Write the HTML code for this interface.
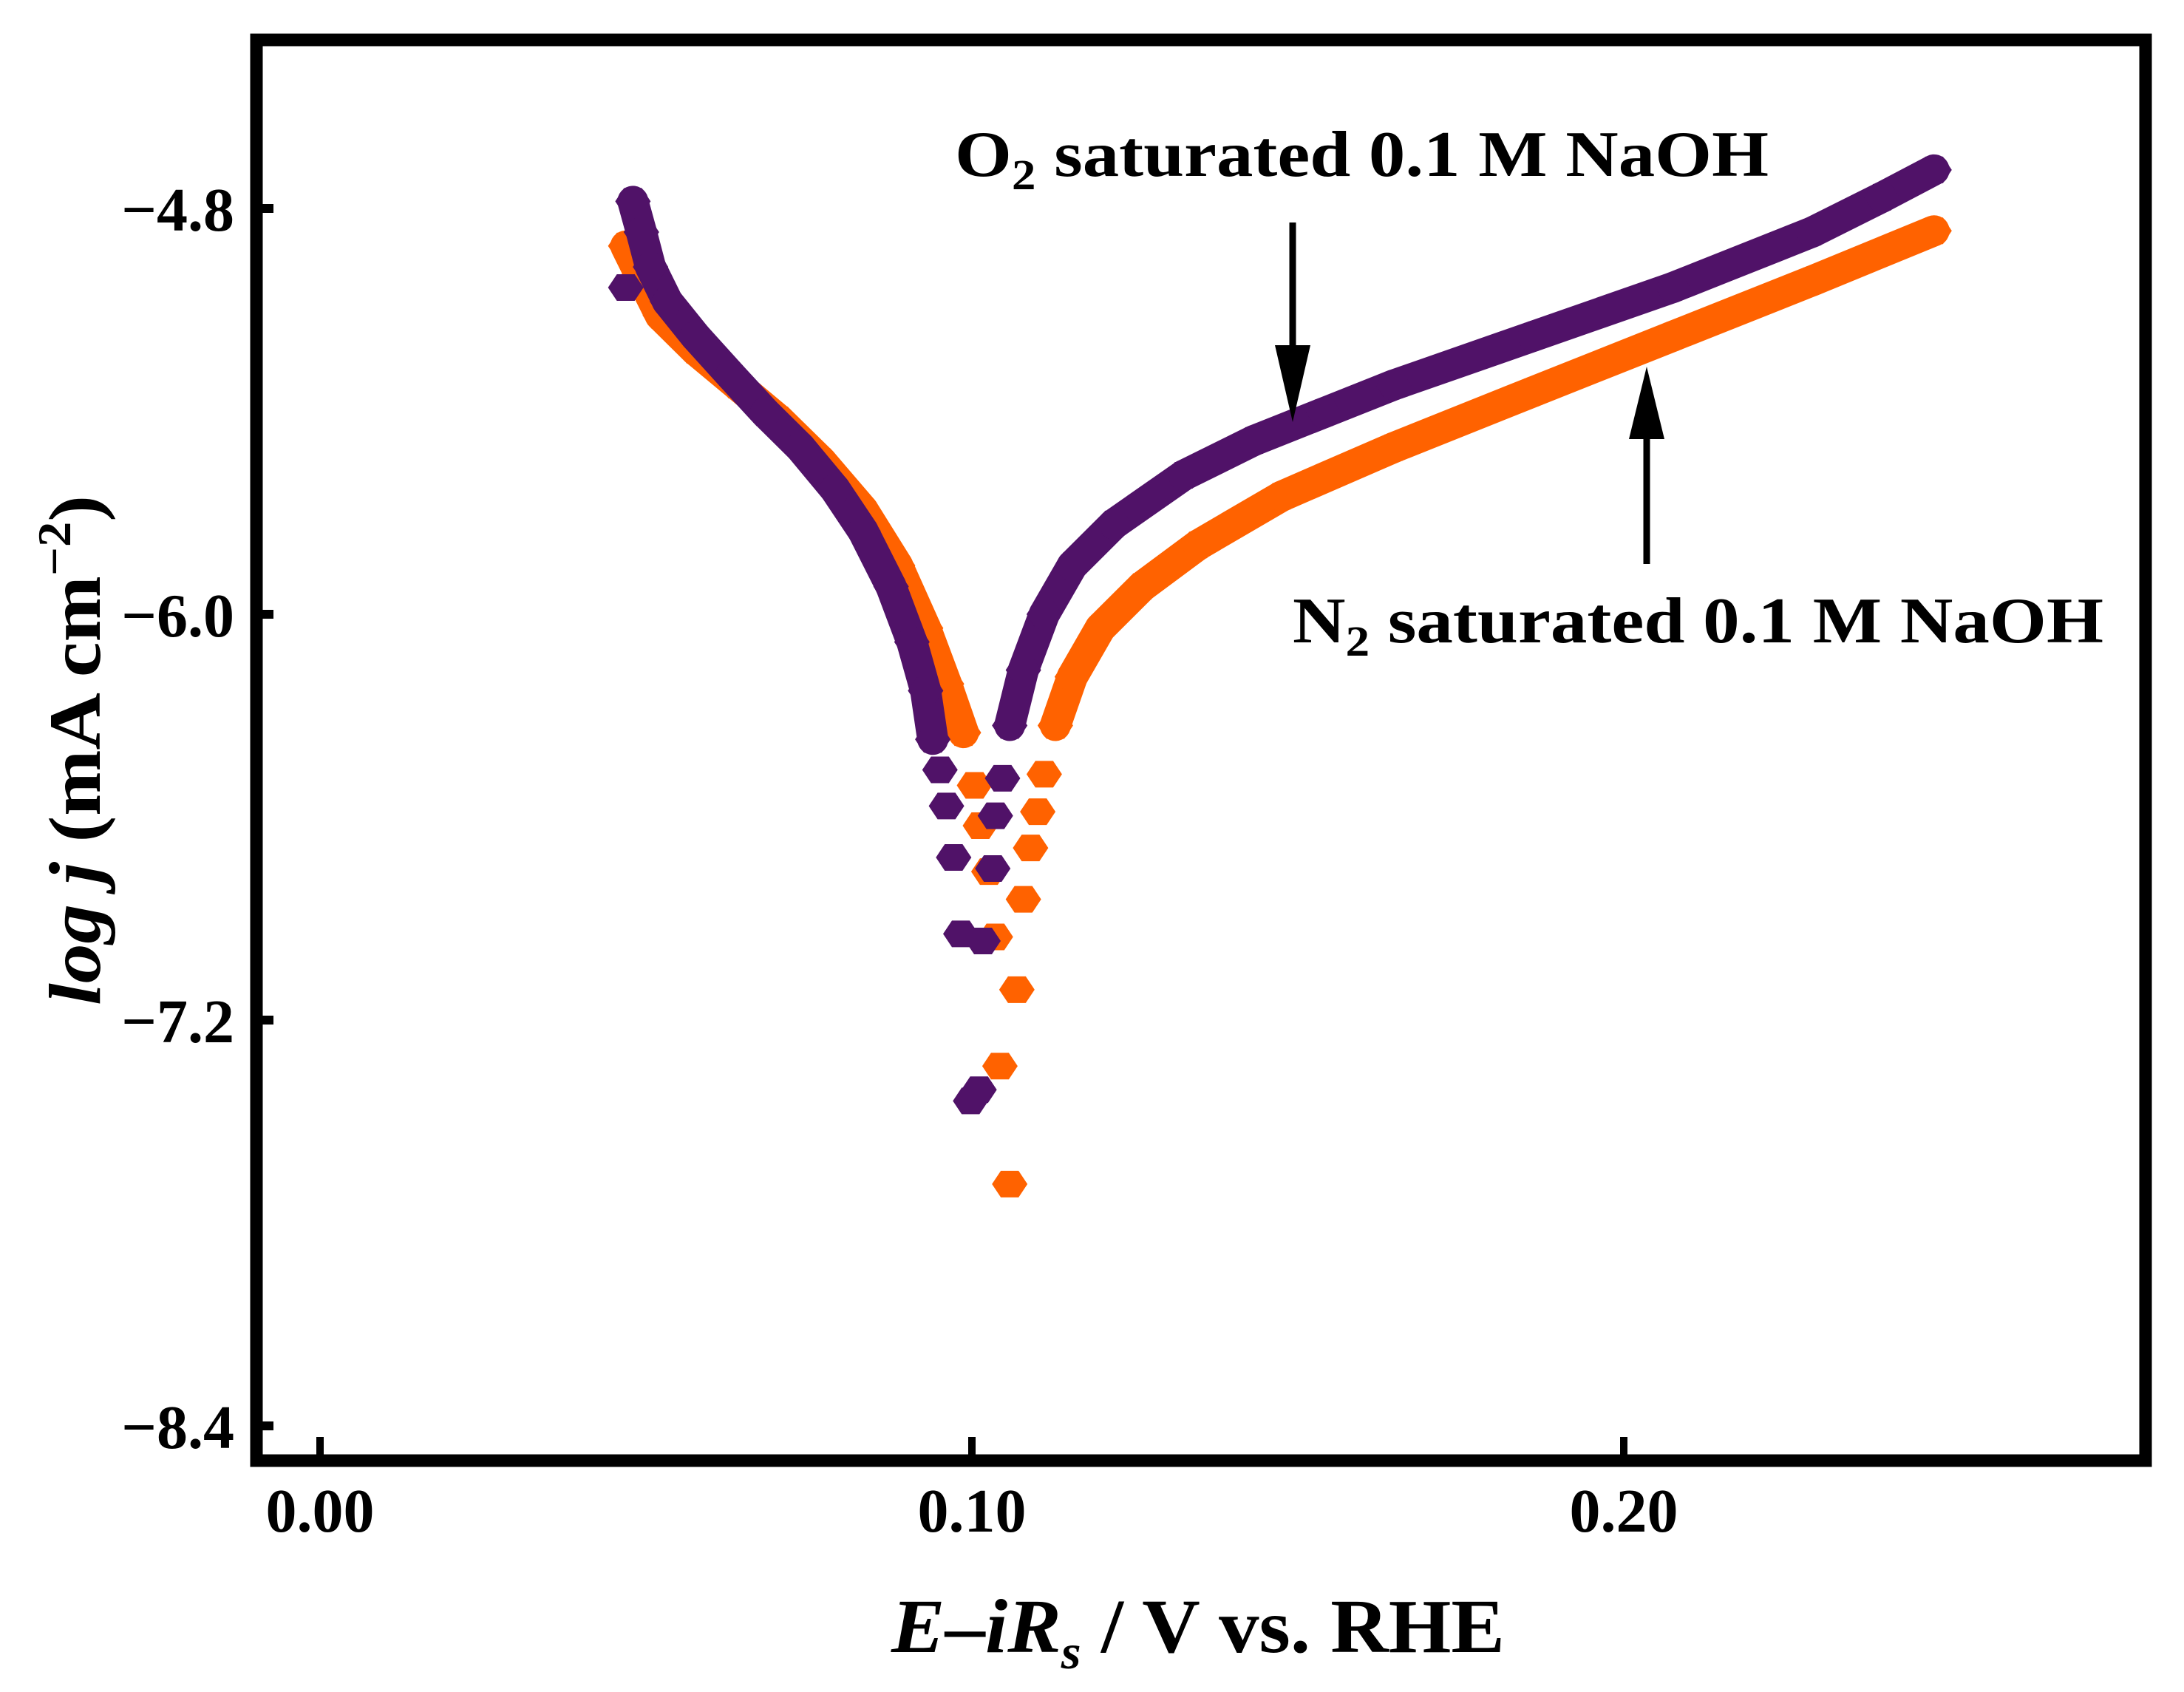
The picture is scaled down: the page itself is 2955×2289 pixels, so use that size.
<!DOCTYPE html>
<html><head><meta charset="utf-8"><style>
html,body{margin:0;padding:0;background:#fff;}
svg{display:block;}
text{font-family:"Liberation Serif",serif;font-weight:bold;fill:#000;}
</style></head><body>
<svg id="chart" width="2955" height="2289" viewBox="0 0 2955 2289" xmlns="http://www.w3.org/2000/svg">
<rect x="0" y="0" width="2955" height="2289" fill="#fff"/>
<g id="marks"></g>
<rect x="347" y="54" width="2556" height="1922" fill="none" stroke="#000" stroke-width="17"/>
<g id="axes"></g>
<text x="1292" y="238" font-size="88" textLength="1101" lengthAdjust="spacingAndGlyphs">O<tspan font-size="58" dy="18">2</tspan><tspan dy="-18"> saturated 0.1 M NaOH</tspan></text>
<text x="1749" y="869" font-size="88" textLength="1097" lengthAdjust="spacingAndGlyphs">N<tspan font-size="58" dy="18">2</tspan><tspan dy="-18"> saturated 0.1 M NaOH</tspan></text>
<g>
<line x1="1749" y1="301" x2="1749" y2="480" stroke="#000" stroke-width="9"/>
<polygon points="1725,467 1773,467 1749,571" fill="#000"/>
</g>
<g>
<line x1="2228" y1="763" x2="2228" y2="580" stroke="#000" stroke-width="9"/>
<polygon points="2204,594 2252,594 2228,496" fill="#000"/>
</g>
<text x="1206" y="2235" font-size="104" textLength="830" lengthAdjust="spacingAndGlyphs"><tspan font-style="italic">E</tspan>–<tspan font-style="italic">iR</tspan><tspan font-style="italic" font-size="66" dy="22">s</tspan><tspan dy="-22"> / V vs. RHE</tspan></text>
<text transform="translate(135,1360) rotate(-90)" x="0" y="0" font-size="100" textLength="690" lengthAdjust="spacingAndGlyphs"><tspan font-style="italic">log j</tspan> (mA cm<tspan font-size="64" dy="-40">−2</tspan><tspan dy="40">)</tspan></text>
</svg>
<script>
const xTicks = [0.00, 0.10, 0.20];
const xTickLabels = ["0.00", "0.10", "0.20"];
const yTicks = [-4.8, -6.0, -7.2, -8.4];
const yTickLabels = ["−4.8", "−6.0", "−7.2", "−8.4"];

const o2X = [0.0469,0.0480,0.0493,0.0507,0.0533,0.0576,0.0630,0.0683,0.0737,0.0790,0.0833,0.0876,0.0908,0.0929,0.0940,0.0951,0.0961,0.0972,0.0983,0.0998,0.1011,0.1017,0.1032,0.1036,0.1047,0.1058,0.1079,0.1111,0.1154,0.1218,0.1325,0.1433,0.1540,0.1647,0.1861,0.2075,0.2289,0.2396,0.2476];
const o2Y = [-5.034,-4.779,-4.870,-4.973,-5.075,-5.178,-5.293,-5.404,-5.507,-5.630,-5.754,-5.918,-6.082,-6.226,-6.370,-6.460,-6.567,-6.719,-6.945,-7.439,-7.406,-6.966,-6.752,-6.596,-6.485,-6.329,-6.165,-6.000,-5.856,-5.733,-5.589,-5.486,-5.404,-5.322,-5.178,-5.034,-4.870,-4.767,-4.686];

const n2X = [0.0469,0.0490,0.0522,0.0576,0.0640,0.0704,0.0769,0.0833,0.0886,0.0929,0.0961,0.0987,0.1004,0.1013,0.1026,0.1036,0.1043,0.1058,0.1069,0.1079,0.1090,0.1101,0.1111,0.1128,0.1154,0.1197,0.1261,0.1347,0.1475,0.1647,0.1861,0.2075,0.2289,0.2476];
const n2Y = [-4.911,-4.993,-5.116,-5.219,-5.322,-5.425,-5.548,-5.692,-5.856,-6.041,-6.206,-6.350,-6.506,-6.625,-6.761,-6.954,-7.336,-7.685,-7.110,-6.843,-6.691,-6.584,-6.473,-6.329,-6.185,-6.041,-5.918,-5.795,-5.651,-5.507,-5.342,-5.178,-5.014,-4.866];

const NS = "http://www.w3.org/2000/svg";
function xScale(v){ return 433 + v * 8820; }
function yScale(v){ return 282 + (-4.8 - v) * 457.5; }

const axes = document.getElementById('axes');
xTicks.forEach((t, i) => {
  const x = xScale(t);
  const l = document.createElementNS(NS, 'line');
  l.setAttribute('x1', x); l.setAttribute('x2', x);
  l.setAttribute('y1', 1968); l.setAttribute('y2', 1944);
  l.setAttribute('stroke', '#000'); l.setAttribute('stroke-width', 10);
  
  
  axes.appendChild(l);
  const tx = document.createElementNS(NS, 'text');
  tx.setAttribute('x', x); tx.setAttribute('y', 2072);
  tx.setAttribute('font-size', 84); tx.setAttribute('text-anchor', 'middle');
  tx.textContent = xTickLabels[i];
  
  
  axes.appendChild(tx);
});
yTicks.forEach((t, i) => {
  const y = yScale(t);
  const l = document.createElementNS(NS, 'line');
  l.setAttribute('x1', 355); l.setAttribute('x2', 370);
  l.setAttribute('y1', y); l.setAttribute('y2', y);
  l.setAttribute('stroke', '#000'); l.setAttribute('stroke-width', 12);
  
  
  axes.appendChild(l);
  const tx = document.createElementNS(NS, 'text');
  tx.setAttribute('x', 317); tx.setAttribute('y', y + 30);
  tx.setAttribute('font-size', 84); tx.setAttribute('text-anchor', 'end');
  tx.textContent = yTickLabels[i];
  
  
  axes.appendChild(tx);
});

const marks = document.getElementById('marks');
function hex(cx, cy){
  const w = 24, h = 18;
  return [[cx-w,cy],[cx-w/2,cy-h],[cx+w/2,cy-h],[cx+w,cy],[cx+w/2,cy+h],[cx-w/2,cy+h]].map(p=>p.join(',')).join(' ');
}
function drawSeries(xs, ys, color, name){
  const g = document.createElementNS(NS, 'g');
  
  
  for (let i = 1; i < xs.length; i++) {
    const x1 = xScale(xs[i-1]), y1 = yScale(ys[i-1]), x2 = xScale(xs[i]), y2 = yScale(ys[i]);
    if (Math.abs(y2 - y1) < 90 && ys[i] > -6.45 && ys[i-1] > -6.45) {
      const l = document.createElementNS(NS, 'line');
      l.setAttribute('x1', x1); l.setAttribute('y1', y1);
      l.setAttribute('x2', x2); l.setAttribute('y2', y2);
      l.setAttribute('stroke', color); l.setAttribute('stroke-width', 42);
      l.setAttribute('stroke-linecap', 'round');
      
      
      g.appendChild(l);
    }
  }
  for (let i = 0; i < xs.length; i++) {
    const p = document.createElementNS(NS, 'polygon');
    p.setAttribute('points', hex(xScale(xs[i]), yScale(ys[i])));
    p.setAttribute('fill', color);
    
    
    g.appendChild(p);
  }
  marks.appendChild(g);
}
drawSeries(n2X, n2Y, '#ff6200', 'n2-series');
drawSeries(o2X, o2Y, '#501268', 'o2-series');
</script>
</body></html>
